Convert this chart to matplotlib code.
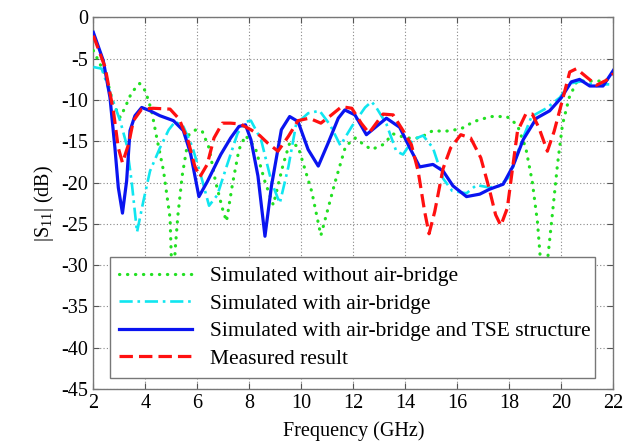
import matplotlib
matplotlib.use("Agg")
import matplotlib.pyplot as plt

plt.rcParams['font.family'] = ['Liberation Serif', 'DejaVu Serif']
plt.rcParams['axes.unicode_minus'] = False

# Simulated without air-bridge (green dotted)
f_green = [2.0, 2.5, 2.77, 3.03, 3.22, 3.47, 3.78, 4.0, 4.24, 4.44, 4.7, 4.95, 5.05, 5.15, 5.25,
           5.42, 5.68, 5.94, 6.19, 6.45, 6.7, 6.96, 7.12, 7.35, 7.6, 7.85, 8.23, 8.6, 8.92, 9.3,
           9.55, 9.87, 10.4, 10.75, 11.3, 11.7, 12.07, 12.4, 12.7, 13.14, 13.53, 14.04, 14.55,
           15.06, 15.5, 16.13, 16.64, 17.28, 17.9, 18.3, 18.63, 18.88, 19.08, 19.2, 19.33, 19.46,
           19.65, 19.85, 20.04, 20.3, 20.6, 21.09, 21.6, 22.0]
s_green = [-4.0, -7.2, -10.5, -12.1, -10.9, -9.1, -8.0, -8.9, -11.3, -14.6, -18.6, -24.3, -34.0,
           -28.0, -24.0, -19.1, -14.2, -13.6, -13.8, -15.8, -19.9, -23.1, -24.7, -20.2, -16.0,
           -14.3, -15.8, -19.9, -22.7, -17.8, -15.2, -15.6, -21.1, -26.4, -19.9, -15.6, -14.6,
           -15.4, -16.0, -15.4, -14.1, -14.6, -14.6, -13.7, -13.8, -13.5, -12.6, -12.0, -12.0,
           -13.0, -15.8, -19.9, -24.8, -29.6, -35.0, -29.6, -23.9, -17.8, -13.0, -9.7, -7.7,
           -7.7, -7.7, -7.3]

# Simulated with air-bridge (cyan dash-dot)
f_cyan = [2.0, 2.32, 2.64, 3.03, 3.28, 3.47, 3.68, 3.92, 4.18, 4.56, 4.9, 5.15, 5.46, 5.8, 6.15,
          6.45, 6.77, 7.15, 7.55, 7.9, 8.06, 8.45, 8.85, 9.17, 9.5, 9.8, 10.26, 10.7, 11.1, 11.5,
          11.94, 12.45, 12.7, 12.88, 13.27, 13.65, 13.91, 14.29, 14.68, 15.06, 15.45, 15.8,
          16.35, 16.73, 17.24, 17.63, 18.03, 18.4, 18.85, 19.42, 19.94, 20.32, 20.83, 21.35,
          21.73, 22.0]
s_cyan = [-6.0, -6.2, -9.1, -12.5, -15.4, -19.8, -26.0, -22.3, -18.6, -15.8, -13.6, -12.6, -13.2,
          -15.6, -19.3, -22.8, -21.5, -17.8, -14.0, -12.6, -12.5, -14.8, -19.9, -22.5, -18.1,
          -12.9, -11.6, -11.3, -13.0, -15.5, -13.2, -10.9, -10.2, -10.9, -12.9, -16.2, -16.6,
          -14.8, -14.3, -15.8, -19.5, -21.0, -21.3, -20.3, -20.6, -20.4, -19.2, -15.6, -12.0,
          -11.0, -9.7, -8.0, -7.7, -8.3, -8.1, -8.1]

# Simulated with air-bridge and TSE structure (blue solid)
f_blue = [2.0, 2.38, 2.64, 2.83, 2.96, 3.12, 3.28, 3.41, 3.6, 3.86, 4.18, 4.56, 5.08, 5.46, 5.74,
          6.06, 6.38, 6.9, 7.28, 7.6, 7.85, 8.06, 8.33, 8.6, 8.85, 9.23, 9.55, 9.87, 10.26, 10.65,
          11.03, 11.42, 11.67, 12.06, 12.5, 13.27, 13.78, 14.17, 14.55, 15.06, 15.45, 15.83,
          16.35, 16.86, 17.24, 17.76, 18.14, 18.53, 19.04, 19.55, 20.0, 20.38, 20.7, 21.09,
          21.6, 22.0]
s_blue = [-1.8, -5.2, -9.7, -15.8, -20.6, -23.7, -19.8, -13.7, -11.9, -10.9, -11.3, -11.9, -12.5,
          -13.7, -16.5, -21.7, -19.9, -16.6, -14.6, -13.2, -13.0, -14.8, -19.2, -26.5, -20.4,
          -13.6, -12.0, -12.6, -16.0, -18.0, -15.2, -12.2, -11.2, -11.8, -14.2, -12.2, -13.3,
          -15.8, -18.1, -17.8, -18.6, -20.4, -21.7, -21.4, -20.8, -20.2, -18.0, -14.8, -12.2,
          -11.3, -9.7, -7.8, -7.5, -8.3, -8.3, -6.4]

# Measured result (red dashed)
f_red = [2.0, 2.45, 2.77, 2.96, 3.12, 3.35, 3.54, 3.86, 4.3, 4.95, 5.3, 5.65, 5.9, 6.1, 6.38, 6.64,
         6.96, 7.28, 7.65, 8.06, 8.4, 8.7, 9.1, 9.5, 9.87, 10.3, 10.75, 11.16, 11.55, 11.94, 12.3,
         12.6, 13.14, 13.53, 13.91, 14.23, 14.49, 14.74, 14.91, 15.13, 15.45, 15.74, 16.13,
         16.51, 16.9, 17.22, 17.47, 17.67, 17.92, 18.12, 18.31, 18.63, 18.88, 19.14, 19.46,
         19.72, 20.04, 20.32, 20.58, 20.96, 21.35, 21.73, 22.0]
s_red = [-2.2, -6.0, -11.3, -15.8, -17.6, -15.4, -12.5, -11.1, -11.0, -11.1, -12.3, -15.0, -18.0,
         -19.3, -17.8, -14.6, -12.8, -12.8, -12.9, -13.6, -14.3, -15.2, -16.2, -14.4, -12.5,
         -12.2, -12.8, -11.8, -10.8, -11.0, -12.8, -14.0, -11.7, -11.8, -13.7, -15.4, -18.6,
         -23.5, -26.2, -23.5, -18.3, -15.8, -14.2, -14.6, -17.0, -20.7, -23.9, -25.2, -23.1,
         -18.3, -13.8, -11.7, -11.7, -13.4, -16.2, -13.8, -10.0, -6.6, -6.2, -7.2, -8.2, -7.6,
         -6.8]

labels = ["Simulated without air-bridge", "Simulated with air-bridge",
          "Simulated with air-bridge and TSE structure", "Measured result"]
x_ticks = [2, 4, 6, 8, 10, 12, 14, 16, 18, 20, 22]
y_ticks = [0, -5, -10, -15, -20, -25, -30, -35, -40, -45]

fig = plt.figure(figsize=(6.35, 4.47), dpi=100)
ax = fig.add_axes([0.147, 0.1298, 0.819, 0.8311])

ax.plot(f_green, s_green, color='#22e022', lw=2.3, linestyle=(0, (0.1, 2.4)),
        dash_capstyle='round', label=labels[0], zorder=3)
ax.plot(f_cyan, s_cyan, color='#10e6f0', lw=1.9, linestyle=(0, (5, 1.8, 1, 1.8)),
        label=labels[1], zorder=3)
ax.plot(f_blue, s_blue, color='#0a14f0', lw=2.3, linestyle='-', label=labels[2], zorder=4)
ax.plot(f_red, s_red, color='#ff1010', lw=2.3, linestyle=(0, (4.2, 1.9)), label=labels[3], zorder=5)

ax.set_xlim(2, 22)
ax.set_ylim(-45, 0)
ax.set_xticks(x_ticks)
ax.set_yticks(y_ticks)
ax.grid(True, linestyle=(0, (1, 2)), color='#888888', lw=0.8)
ax.tick_params(direction='in', top=True, right=True, length=4, labelsize=14.5, color='#555555')
for s in ax.spines.values():
    s.set_color('#777777')
    s.set_linewidth(1.0)

ax.set_xlabel("Frequency (GHz)", fontsize=14.5, labelpad=6)
ax.set_ylabel("|S$_{\\mathregular{11}}$| (dB)", fontsize=14.5, labelpad=4)

leg = ax.legend(loc='lower left', bbox_to_anchor=(0.032, 0.030, 0.932, 0.312), mode='expand',
                fontsize=15.5, fancybox=False, framealpha=1.0, edgecolor='#777777',
                handlelength=3.4, handletextpad=0.8, labelspacing=0.34, borderpad=0.43,
                borderaxespad=0)
leg.get_frame().set_linewidth(1.0)
leg.set_zorder(10)

fig.savefig("out.png", dpi=100)
